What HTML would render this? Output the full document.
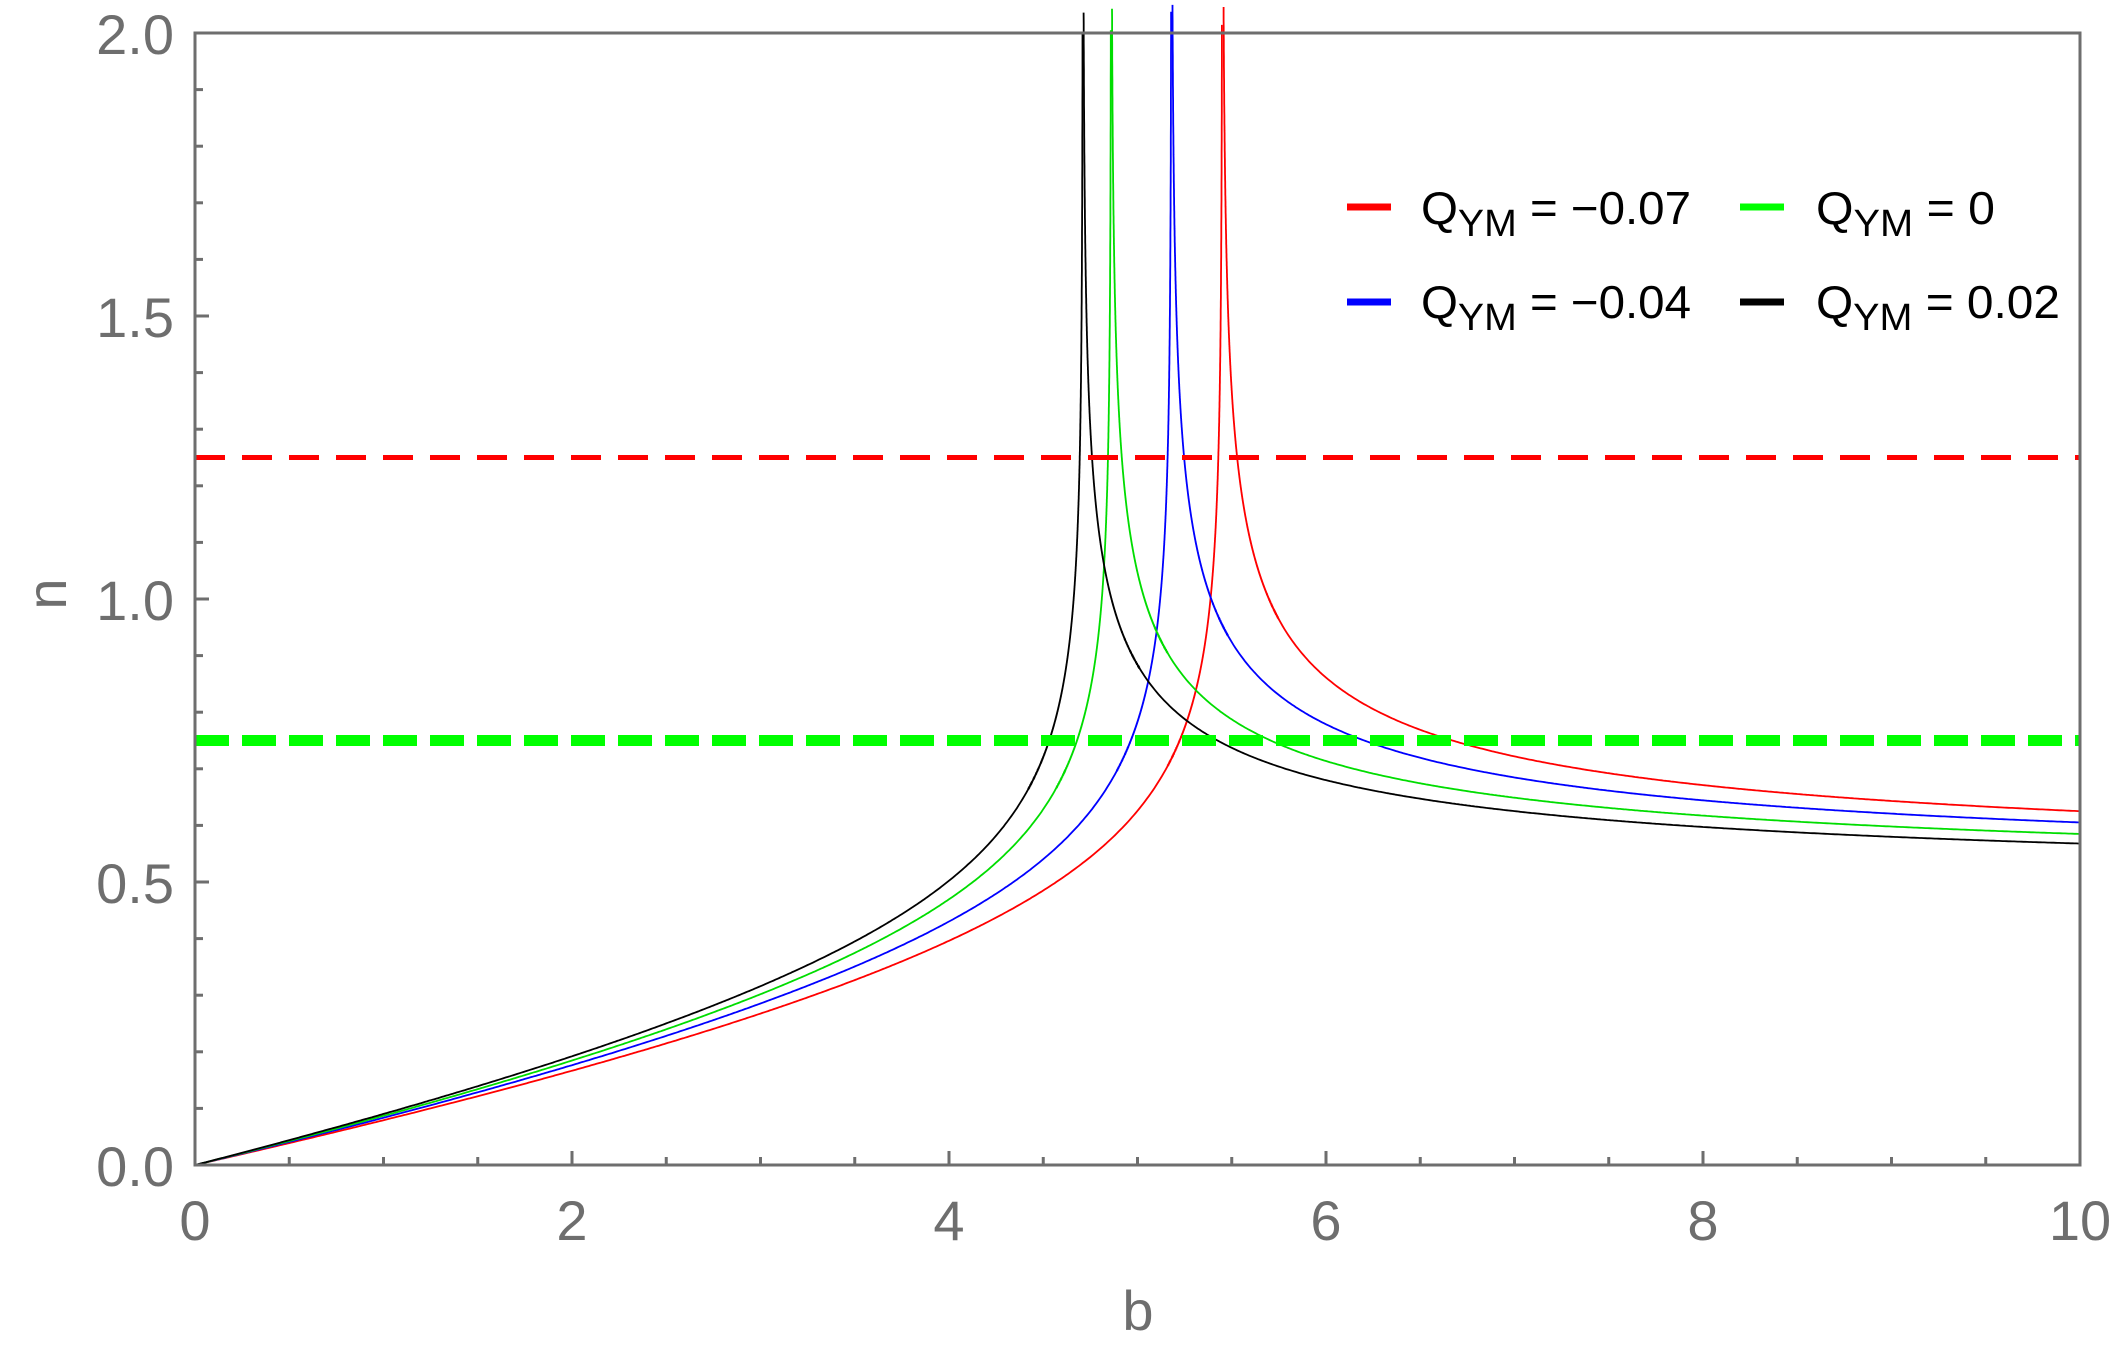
<!DOCTYPE html>
<html><head><meta charset="utf-8"><style>
html,body{margin:0;padding:0;background:#fff;}
svg{display:block;}
text{font-family:"Liberation Sans",sans-serif;}
</style></head><body>
<svg id="s" width="2117" height="1350" xmlns="http://www.w3.org/2000/svg">
<g id="curves" fill="none" stroke-width="1.8"></g>
<line x1="195" y1="457.5" x2="2080" y2="457.5" stroke="#ff0000" stroke-width="5" stroke-dasharray="30,17"/>
<line x1="195" y1="740.5" x2="2080" y2="740.5" stroke="#00ff00" stroke-width="11" stroke-dasharray="34,13"/>
<rect x="195" y="33" width="1885" height="1132" fill="none" stroke="#6e6e6e" stroke-width="3"/>
<g id="ticks" stroke="#6e6e6e" stroke-width="3"></g>
<g fill="#6e6e6e" font-size="56">
<text x="195" y="1240" text-anchor="middle">0</text>
<text x="572" y="1240" text-anchor="middle">2</text>
<text x="949" y="1240" text-anchor="middle">4</text>
<text x="1326" y="1240" text-anchor="middle">6</text>
<text x="1703" y="1240" text-anchor="middle">8</text>
<text x="2080" y="1240" text-anchor="middle">10</text>
<text x="174" y="1186" text-anchor="end">0.0</text>
<text x="174" y="903" text-anchor="end">0.5</text>
<text x="174" y="620" text-anchor="end">1.0</text>
<text x="174" y="337" text-anchor="end">1.5</text>
<text x="174" y="54" text-anchor="end">2.0</text>
<text x="1138" y="1330" text-anchor="middle">b</text>
<text x="0" y="0" text-anchor="middle" transform="translate(66,594) rotate(-90)">n</text>
</g>
<g font-size="46" fill="#000">
<line x1="1347" y1="207" x2="1391" y2="207" stroke="#ff0000" stroke-width="7"/>
<text x="1421" y="224" textLength="270" lengthAdjust="spacingAndGlyphs">Q<tspan font-size="38" dy="12">YM</tspan><tspan dy="-12"> = −0.07</tspan></text>
<line x1="1740" y1="207" x2="1784" y2="207" stroke="#00ff00" stroke-width="7"/>
<text x="1816" y="224" textLength="179" lengthAdjust="spacingAndGlyphs">Q<tspan font-size="38" dy="12">YM</tspan><tspan dy="-12"> = 0</tspan></text>
<line x1="1347" y1="302" x2="1391" y2="302" stroke="#0000ff" stroke-width="7"/>
<text x="1421" y="318" textLength="270" lengthAdjust="spacingAndGlyphs">Q<tspan font-size="38" dy="12">YM</tspan><tspan dy="-12"> = −0.04</tspan></text>
<line x1="1740" y1="302" x2="1784" y2="302" stroke="#000" stroke-width="7"/>
<text x="1816" y="318" textLength="244" lengthAdjust="spacingAndGlyphs">Q<tspan font-size="38" dy="12">YM</tspan><tspan dy="-12"> = 0.02</tspan></text>
</g>
</svg>
<script>
var X=function(b){return 195+b*188.5;}, Y=function(n){return 1165-n*566;};
var t=document.getElementById('ticks'),h='';
for(var i=1;i<20;i++){var x=X(i*0.5),L=(i%4==0)?14:8;h+='<line x1="'+x+'" y1="1165" x2="'+x+'" y2="'+(1165-L)+'"/>';}
for(var j=1;j<20;j++){var y=Y(j*0.1),L=(j%5==0)?14:8;h+='<line x1="195" y1="'+y+'" x2="'+(195+L)+'" y2="'+y+'"/>';}
t.innerHTML=h;
var S=[["#ff0000",5.45,0.076,0.534],["#0000ff",5.18,0.080,0.523],["#00dd00",4.86,0.083,0.512],["#000000",4.71,0.086,0.5]];
var g=document.getElementById('curves'),o='';
S.forEach(function(s){var bc=s[1],k=s[2],c=s[3],d='';
 for(var b=0;b<bc;b+=(b<bc-0.3?0.01:0.0002)){var n=k*b*Math.pow(1-b/bc,-0.2);if(n>2.05)break;d+=(d?'L':'M')+X(b).toFixed(1)+','+Y(n).toFixed(1);}
 var d2='';
 for(var b=bc+0.00001;b<=10.001;b+=(b<bc+0.3?0.0002:0.01)){var n=c*Math.pow(1-bc/b,-0.2);if(n>2.05)continue;d2+=(d2?'L':'M')+X(b).toFixed(1)+','+Y(n).toFixed(1);}
 o+='<path stroke="'+s[0]+'" d="'+d+'"/><path stroke="'+s[0]+'" d="'+d2+'"/>';});
g.innerHTML=o;
</script>
</body></html>
